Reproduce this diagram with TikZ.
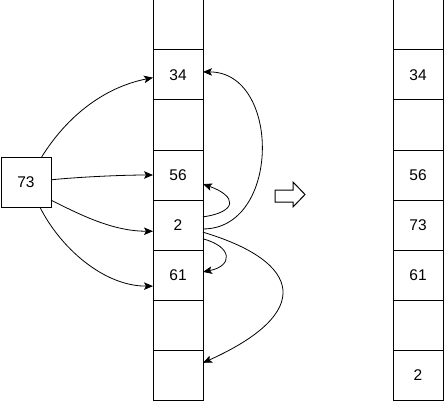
\documentclass[tikz,border=0pt]{standalone}
\usepackage{fontspec}
\setmainfont{Liberation Sans}
\usetikzlibrary{arrows.meta,positioning}
\definecolor{cellline}{RGB}{0,0,0}
\tikzset{
  cell/.style={
    rectangle, draw=cellline, line width=1pt, outer sep=0pt, inner sep=0pt,
    minimum width=50pt, minimum height=50pt,
    font=\fontsize{15.5}{18}\selectfont
  },
  link/.style={-{Stealth[length=9pt,width=7.5pt,inset=2pt]}, line width=0.8pt, color=cellline},
  hollowarrow/.style={draw=cellline, line width=1pt, fill=white}
}

\begin{document}
\begin{tikzpicture}[x=1pt,y=-1pt]
  \useasboundingbox (0,0) rectangle (444,401);
  % Array before
  \foreach \i/\v in {1/,2/34,3/,4/56,5/2,6/61,7/,8/} {
    \node[cell] (l\i) at (178,{25+50*(\i-1)}) {\v};
  }
  % Array after
  \foreach \i/\v in {1/,2/34,3/,4/56,5/73,6/61,7/,8/2} {
    \node[cell] (r\i) at (418,{25+50*(\i-1)}) {\v};
  }
  % Value to insert
  \node[cell] (src) at (26,182) {73};
  % Comparisons of 73
  \draw[link] (src.58) .. controls +(25,-40) and +(-50,10) .. (l2.186);
  \draw[link] (src.5) .. controls +(30,-3) and +(-30,0) .. (l4.west);
  \draw[link] (src.-36) .. controls +(30,15) and +(-40,0) .. (l5.194);
  \draw[link] (src.-61) .. controls +(20,40) and +(-50,0) .. (l6.204);
  % Moves of 2
  \draw[link] (l5.-9) .. controls +(78,0) and +(78,0) .. (l2.7);
  \draw[link] (l5.18) .. controls +(35,-5) and +(34,12) .. (l4.-20);
  \draw[link] (l5.-29) .. controls +(30,8) and +(30,-6) .. (l6.7);
  \draw[link] (l5.-16) .. controls +(100,30) and +(111,-50) .. (l8.26);
  % Result arrow
  \draw[hollowarrow] (275,190) -- (293,190) -- (293,182) -- (305,194.5)
    -- (293,207) -- (293,202) -- (275,202) -- cycle;
\end{tikzpicture}
\end{document}
